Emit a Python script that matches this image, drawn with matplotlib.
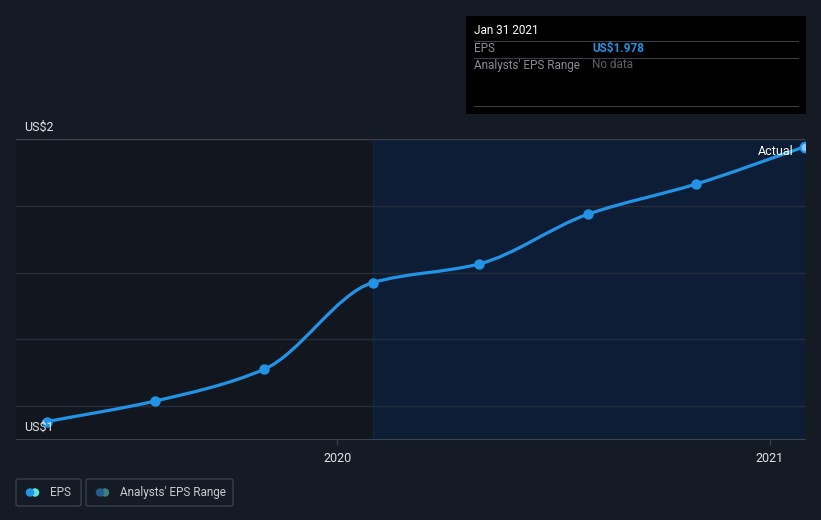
import matplotlib
matplotlib.use("Agg")
import matplotlib.pyplot as plt
import matplotlib.dates as mdates
from matplotlib.path import Path
from matplotlib.patches import PathPatch, FancyBboxPatch, Ellipse
import numpy as np
from datetime import datetime

plt.rcParams['font.family'] = ['Roboto', 'DejaVu Sans']

# EPS (trailing), quarterly
dates = ["2019-04-30", "2019-07-31", "2019-10-31", "2020-01-31",
         "2020-04-30", "2020-07-31", "2020-10-31", "2021-01-31"]
eps = [1.153, 1.215, 1.31, 1.57, 1.626, 1.775, 1.866, 1.978]
forecast_start = "2020-01-31"
y_ticks = [1.2, 1.4, 1.6, 1.8, 2.0]
x_ticks = ["2020-01-01", "2021-01-01"]
x_tick_labels = ["2020", "2021"]

BG = "#151b25"
LINE = "#2394e5"

x = mdates.date2num([datetime.fromisoformat(d) for d in dates])
y = np.array(eps)

fig = plt.figure(figsize=(8.21, 5.2), dpi=100, facecolor=BG)
W, H = 821, 520
ax = fig.add_axes([16 / W, (H - 439.3) / H, (805 - 16) / W, 300 / H])
ax.set_facecolor("#12161e")
ax.set_xlim(mdates.date2num(datetime(2019, 4, 4)), mdates.date2num(datetime(2021, 1, 31)))
ax.set_ylim(1.1, 2.0)

# shaded "past year" region
fs = mdates.date2num(datetime.fromisoformat(forecast_start))
ax.axvspan(fs, ax.get_xlim()[1], color="#0c1d35", zorder=0)
ax.axvline(fs, color="#14243b", lw=1, zorder=0.5)

for t in y_ticks[:-1]:
    ax.axhline(t, color="#262d3a", lw=1, zorder=1)
ax.axhline(2.0, color="#3c424d", lw=1, zorder=1)

for s in ["left", "right", "top"]:
    ax.spines[s].set_visible(False)
ax.spines["bottom"].set_color("#3c424d")
ax.set_yticks([])
ax.set_xticks(mdates.date2num([datetime.fromisoformat(d) for d in x_ticks]))
ax.set_xticklabels(x_tick_labels)
ax.tick_params(axis="x", colors="#3c424d", labelcolor="#e0e2e6", length=4, labelsize=9, pad=5)

# monotone cubic curve through the points, drawn as Bezier path
h = np.diff(x)
d = np.diff(y) / h
m = np.zeros_like(y)
m[0], m[-1] = d[0], d[-1]
for i in range(1, len(y) - 1):
    if d[i - 1] * d[i] > 0:
        w1 = 2 * h[i] + h[i - 1]
        w2 = h[i] + 2 * h[i - 1]
        m[i] = (w1 + w2) / (w1 / d[i - 1] + w2 / d[i])
verts = [(x[0], y[0])]
codes = [Path.MOVETO]
for i in range(len(x) - 1):
    verts += [(x[i] + h[i] / 3, y[i] + m[i] * h[i] / 3),
              (x[i + 1] - h[i] / 3, y[i + 1] - m[i + 1] * h[i] / 3),
              (x[i + 1], y[i + 1])]
    codes += [Path.CURVE4] * 3
ax.add_patch(PathPatch(Path(verts, codes), fc="none", ec=LINE, lw=2.3, zorder=3, capstyle="round"))
ax.plot(x[:-1], y[:-1], "o", color=LINE, ms=6.5, zorder=4)
ax.plot(x[-1:], y[-1:], "o", mfc="#8cc8f5", mec=LINE, mew=1.5, ms=7, zorder=4)

ax.text(x[-1] - 10, y[-1] - 0.015, "Actual", color="white", fontsize=9, ha="right", va="center", zorder=5)

fig.text(24 / W, 1 - 127 / H, "US$2", color="#e0e2e6", fontsize=9, va="center")
fig.text(24 / W, 1 - 427 / H, "US$1", color="#e0e2e6", fontsize=9, va="center", zorder=1)

# tooltip box
fig.patches.append(plt.Rectangle((466 / W, 1 - 114 / H), 340 / W, 98 / H, transform=fig.transFigure,
                                 fc="black", ec="none", zorder=10))
for yy in [40.5, 57.5, 106.5]:
    fig.add_artist(plt.Line2D([474 / W, 798 / W], [1 - yy / H] * 2, color="#3a3d42", lw=0.8, zorder=11))
fig.text(474 / W, 1 - 31 / H, "Jan 31 2021", color="white", fontsize=8.5, va="center", zorder=12)
fig.text(474 / W, 1 - 48.5 / H, "EPS", color="#8a8d93", fontsize=8.5, va="center", zorder=12)
fig.text(592 / W, 1 - 48.5 / H, "US$1.978", color="#2394e5", fontsize=8.5, fontweight="bold", va="center", zorder=12)
fig.text(474 / W, 1 - 65 / H, "Analysts' EPS Range", color="#8a8d93", fontsize=8.5, va="center", zorder=12)
fig.text(592 / W, 1 - 65 / H, "No data", color="#5e6167", fontsize=8.5, va="center", zorder=12)

# legend
legend_items = [("EPS", 16, 65, "#2394e5", "#5fe3da"), ("Analysts' EPS Range", 86, 147, "#235d8a", "#3e7f80")]
for label, lx, lw, c1, c2 in legend_items:
    fig.add_artist(FancyBboxPatch((lx / W, 1 - 506 / H), lw / W, 27 / H, boxstyle="round,pad=0,rounding_size=0.003",
                                  transform=fig.transFigure, fc="none", ec="#3a3f4a", lw=1))
    fig.add_artist(Ellipse(((lx + 19) / W, 1 - 492.5 / H), 8.5 / W, 8.5 / H, transform=fig.transFigure,
                           fc=c2, ec="none", zorder=3))
    fig.add_artist(Ellipse(((lx + 14) / W, 1 - 492.5 / H), 8.5 / W, 8.5 / H, transform=fig.transFigure,
                           fc=c1, ec="none", zorder=4))
    fig.text((lx + 34) / W, 1 - 492.5 / H, label, color="#c8cbd0", fontsize=8.5, va="center")

fig.savefig("out.png", dpi=100, facecolor=BG)
